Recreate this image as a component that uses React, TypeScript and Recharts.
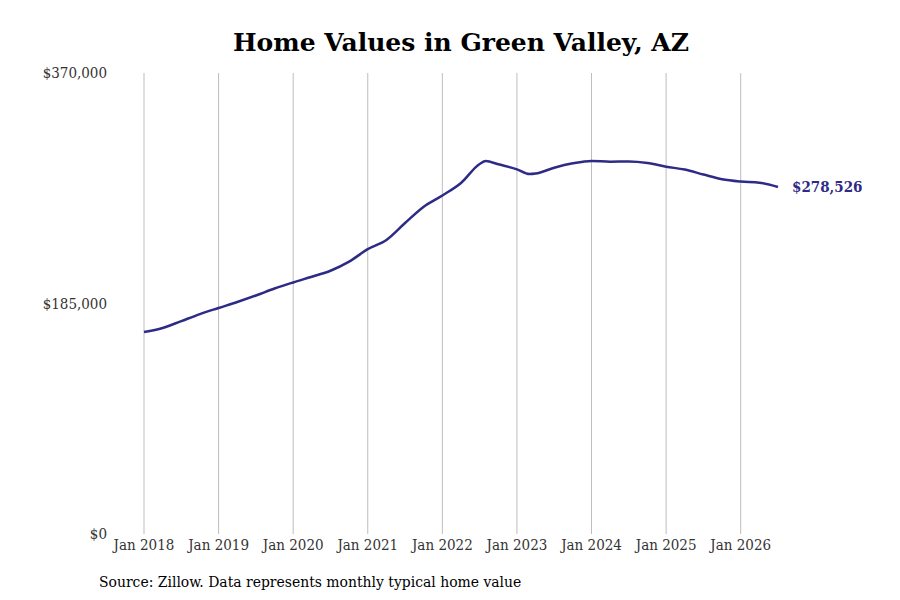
import { LineChart, Line, XAxis, YAxis, CartesianGrid } from 'recharts';

// months since Jan 2018 (mostly quarterly, plus the 2022 peak and 2023 dip)
const monthOffsets = [
  0, 3, 6, 9, 12, 15, 18, 21, 24, 27, 30, 33, 36, 39, 42, 45, 48, 51, 54, 55, 57, 60, 62, 63, 66,
  69, 72, 75, 78, 81, 84, 87, 90, 93, 96, 99, 102,
];
const homeValues = [
  162100, 165300, 170900, 176500, 181400, 186200, 191400, 197000, 201900, 206500, 211300, 218600,
  228600, 236000, 249600, 262700, 271700, 281700, 297000, 299300, 296700, 292700, 288900, 289300,
  294000, 297500, 299400, 298800, 299000, 297800, 294800, 292500, 288500, 284700, 282900, 282000,
  278526,
];
const xTicks = [0, 12, 24, 36, 48, 60, 72, 84, 96];
const yTicks = [0, 185000, 370000];

const data = monthOffsets.map((m, i) => ({ month: m, value: homeValues[i] }));

const LINE_COLOR = '#2e2b87';
const FONT = '"DejaVu Serif", serif';
const COND = '"DejaVu Serif Condensed", "DejaVu Serif", serif';

const EndLabel = (props: any) => {
  const { x, y, index } = props;
  if (index !== data.length - 1) return null;
  return (
    <text
      x={x + 14}
      y={y}
      dominantBaseline="central"
      fill={LINE_COLOR}
      fontFamily={COND}
      fontStretch="condensed"
      fontSize={15}
      fontWeight="bold"
    >
      ${homeValues[homeValues.length - 1].toLocaleString('en-US')}
    </text>
  );
};

const gridX = (props: any) => {
  const s = props.xAxis?.scale;
  if (typeof s === 'function') return xTicks.map((t) => s(t));
  const { offset } = props;
  return xTicks.map((t) => offset.left + (t / 102) * offset.width);
};

const App = () => {
  return (
    <div style={{ position: 'relative', width: 900, height: 600, background: '#fff', fontFamily: FONT }}>
      <style>{'body{margin:0}'}</style>
      <div
        style={{
          position: 'absolute',
          top: 28,
          left: 144,
          width: 634,
          textAlign: 'center',
          fontSize: 25,
          fontWeight: 'bold',
          color: '#000',
          lineHeight: '30px',
        }}
      >
        Home Values in Green Valley, AZ
      </div>

      <LineChart
        width={900}
        height={600}
        data={data}
        margin={{ top: 73, right: 122, left: 0, bottom: 36 }}
      >
        <CartesianGrid horizontal={false} stroke="#bdbdbd" verticalCoordinatesGenerator={gridX} />
        <XAxis
          dataKey="month"
          type="number"
          domain={[0, 102]}
          ticks={xTicks}
          tickFormatter={(m: number) => `Jan ${2018 + m / 12}`}
          axisLine={false}
          tickLine={false}
          tickSize={0}
          tickMargin={5}
          height={30}
          interval={0}
          tick={{ fill: '#333', fontSize: 15, fontFamily: COND, fontStretch: 'condensed' }}
        />
        <YAxis
          type="number"
          domain={[0, 370000]}
          ticks={yTicks}
          tickFormatter={(v: number) => `$${v.toLocaleString('en-US')}`}
          axisLine={false}
          tickLine={false}
          tickSize={0}
          tickMargin={37}
          width={144}
          interval={0}
          tick={{ fill: '#333', fontSize: 15, fontFamily: COND, fontStretch: 'condensed' }}
        />
        <Line
          type="monotone"
          dataKey="value"
          stroke={LINE_COLOR}
          strokeWidth={2.5}
          dot={false}
          isAnimationActive={false}
          label={<EndLabel />}
        />
      </LineChart>

      <div
        style={{
          position: 'absolute',
          top: 572,
          left: 99,
          fontSize: 15.5,
          fontFamily: COND,
          fontStretch: 'condensed',
          color: '#000',
          lineHeight: '20px',
          whiteSpace: 'nowrap',
        }}
      >
        Source: Zillow. Data represents monthly typical home value
      </div>
    </div>
  );
};

export default App;
